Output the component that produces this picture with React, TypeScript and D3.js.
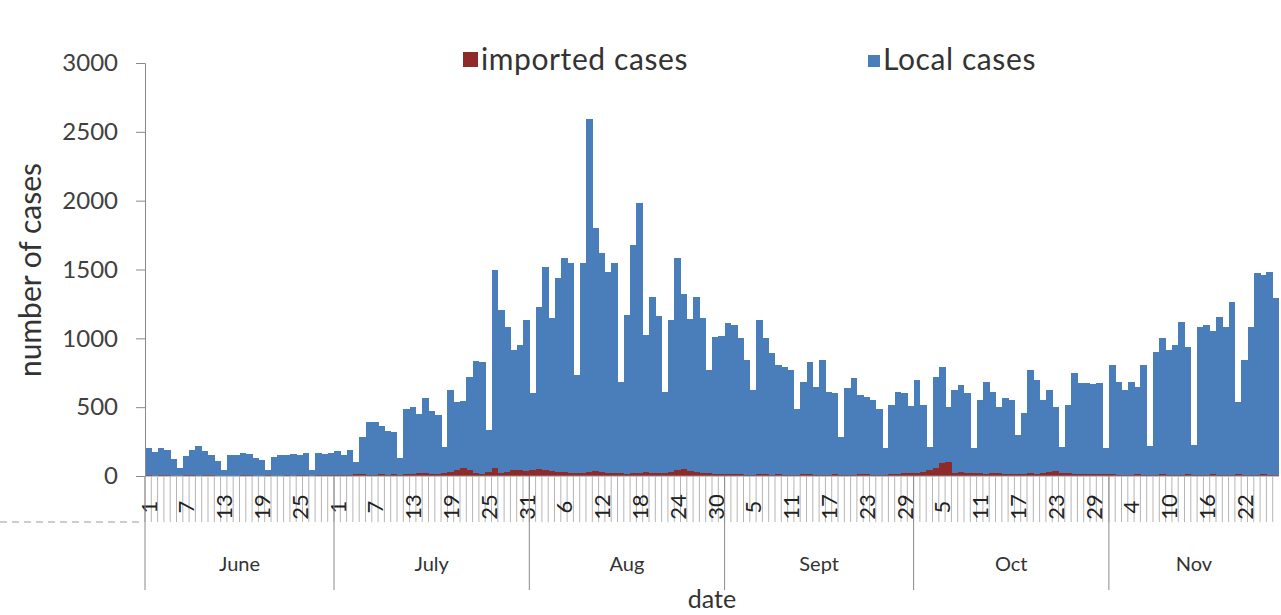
import React, { useEffect, useRef } from "react";
import * as d3 from "d3";

// months shown on the x axis
const months = ["June", "July", "Aug", "Sept", "Oct", "Nov"];
const monthDays = [30, 31, 31, 30, 31, 27];

// daily local cases, per month
const juneLocal = [
  205, 175, 200, 190, 120, 55, 145, 190, 215, 185, 150, 110, 45, 150, 150,
  165, 160, 130, 115, 40, 135, 150, 155, 160, 150, 170, 40, 170, 160, 165,
];
const julyLocal = [
  185, 150, 190, 100, 280, 395, 390, 365, 330, 320, 130, 490, 500, 450, 570,
  470, 440, 210, 625, 540, 545, 720, 835, 830, 335, 1496, 1205, 1085, 915, 950,
  1135,
];
const augLocal = [
  600, 1230, 1520, 1145, 1435, 1580, 1545, 735, 1545, 2590, 1800, 1617, 1485,
  1545, 685, 1170, 1678, 1980, 1025, 1300, 1160, 612, 1133, 1580, 1320, 1140,
  1300, 1145, 770, 1010, 1020,
];
const septLocal = [
  1110, 1095, 1000, 845, 625, 1133, 1000, 890, 806, 794, 770, 490, 685, 830,
  645, 843, 613, 600, 285, 637, 710, 590, 576, 552, 490, 200, 515, 613, 605,
  510,
];
const octLocal = [
  697, 515, 213, 721, 794, 503, 625, 661, 600, 200, 552, 685, 612, 503, 564,
  552, 298, 455, 770, 697, 552, 625, 503, 213, 515, 746, 673, 673, 670, 675,
  200,
];
const novLocal = [
  806, 685, 625, 685, 650, 806, 220, 903, 1000, 915, 952, 1121, 940, 225, 1085,
  1097, 1050, 1157, 1085, 1266, 540, 843, 1085, 1472, 1460, 1484, 1290,
];

// daily imported cases, per month
const juneImported = [
  5, 3, 4, 6, 3, 2, 4, 5, 3, 6, 4, 3, 2, 1, 3, 4, 5, 3, 2, 4, 3, 2, 4, 3, 5, 4,
  3, 6, 5, 4,
];
const julyImported = [
  8, 6, 10, 12, 15, 10, 8, 12, 10, 14, 9, 15, 18, 20, 22, 18, 16, 25, 30, 40,
  60, 45, 20, 15, 30, 55, 25, 30, 45, 40, 35,
];
const augImported = [
  45, 50, 40, 35, 30, 28, 25, 22, 25, 30, 35, 28, 25, 20, 22, 18, 20, 25, 30,
  22, 20, 25, 30, 40, 50, 35, 30, 25, 20, 18, 15,
];
const septImported = [
  15, 12, 14, 10, 8, 12, 14, 10, 12, 10, 8, 10, 12, 14, 10, 8, 10, 12, 10, 8,
  10, 12, 14, 10, 8, 10, 12, 15, 20, 25,
];
const octImported = [
  25, 30, 40, 55, 95, 100, 20, 30, 25, 20, 22, 18, 20, 22, 18, 15, 12, 15, 20,
  18, 25, 30, 35, 25, 20, 18, 15, 12, 14, 16, 15,
];
const novImported = [
  12, 10, 8, 10, 12, 10, 8, 10, 12, 10, 8, 10, 12, 10, 8, 10, 12, 10, 8, 10,
  12, 10, 8, 10, 12, 10, 8,
];

const yTicks = [0, 500, 1000, 1500, 2000, 2500, 3000];

const LOCAL_COLOR = "#4a7ebb";
const IMPORTED_COLOR = "#8e2a2a";
const FONT = "Lato, 'Open Sans', sans-serif";

interface DayRow {
  idx: number;
  day: number;
  local: number;
  imported: number;
}

const createCasesChart = (svgElement: SVGSVGElement): void => {
  const width = 1281;
  const height = 615;
  const left = 145;
  const right = 1279;
  const base = 476;
  const top = 63;

  d3.select(svgElement).selectAll("*").remove();
  const svg = d3.select(svgElement).attr("width", width).attr("height", height);

  const localAll = [juneLocal, julyLocal, augLocal, septLocal, octLocal, novLocal];
  const importedAll = [
    juneImported,
    julyImported,
    augImported,
    septImported,
    octImported,
    novImported,
  ];

  const rows: DayRow[] = [];
  localAll.forEach((arr, m) => {
    arr.forEach((v, i) => {
      rows.push({ idx: rows.length, day: i + 1, local: v, imported: importedAll[m][i] });
    });
  });

  const x = d3
    .scaleBand<number>()
    .domain(rows.map((d) => d.idx))
    .range([left, right])
    .padding(0);

  const y = d3.scaleLinear().domain([0, 3000]).range([base, top]);

  // bars: both series from zero, imported drawn in front (100% overlap)
  const bars = svg.append("g").attr("shape-rendering", "crispEdges");
  bars
    .selectAll(".local")
    .data(rows)
    .enter()
    .append("rect")
    .attr("class", "local")
    .attr("x", (d) => x(d.idx)!)
    .attr("width", x.bandwidth() + 0.4)
    .attr("y", (d) => y(d.local))
    .attr("height", (d) => base - y(d.local))
    .attr("fill", LOCAL_COLOR);

  bars
    .selectAll(".imported")
    .data(rows)
    .enter()
    .append("rect")
    .attr("class", "imported")
    .attr("x", (d) => x(d.idx)!)
    .attr("width", x.bandwidth() + 0.4)
    .attr("y", (d) => y(d.imported))
    .attr("height", (d) => base - y(d.imported))
    .attr("fill", IMPORTED_COLOR);

  // y axis
  const yAxis = svg
    .append("g")
    .attr("transform", `translate(${left},0)`)
    .call(
      d3
        .axisLeft(y)
        .tickValues(yTicks)
        .tickSize(9)
        .tickPadding(18)
        .tickFormat(d3.format("d"))
    );
  yAxis.select(".domain").attr("stroke", "#8a8a8a");
  yAxis.selectAll(".tick line").attr("stroke", "#8a8a8a");
  yAxis
    .selectAll(".tick text")
    .attr("font-family", FONT)
    .attr("font-size", 24)
    .attr("fill", "#404040");

  // x axis: base line, day grid, day labels
  const xg = svg.append("g");
  xg.append("line")
    .attr("x1", left)
    .attr("x2", right)
    .attr("y1", base)
    .attr("y2", base)
    .attr("stroke", "#8a8a8a");

  xg.selectAll(".dayline")
    .data(rows)
    .enter()
    .append("line")
    .attr("class", "dayline")
    .attr("x1", (d) => x(d.idx)!)
    .attr("x2", (d) => x(d.idx)!)
    .attr("y1", base)
    .attr("y2", base + 46)
    .attr("stroke", "#b5b5b5")
    .attr("stroke-width", 1);

  xg.selectAll(".daylabel")
    .data(rows.filter((d) => d.idx % 6 === 0))
    .enter()
    .append("text")
    .attr("class", "daylabel")
    .attr(
      "transform",
      (d) => `translate(${x(d.idx)! + x.bandwidth() / 2},${base + 31}) rotate(-90)`
    )
    .attr("text-anchor", "middle")
    .attr("dominant-baseline", "central")
    .attr("font-family", FONT)
    .attr("font-size", 22)
    .attr("fill", "#222")
    .text((d) => d.day);

  // month separators and names
  let start = 0;
  const monthSpans = months.map((name, i) => {
    const s = { name, from: start, to: start + monthDays[i] };
    start += monthDays[i];
    return s;
  });

  const mx = (i: number) => (i >= rows.length ? right : x(i)!);

  xg.selectAll(".sep")
    .data(monthSpans)
    .enter()
    .append("line")
    .attr("class", "sep")
    .attr("x1", (d) => mx(d.from))
    .attr("x2", (d) => mx(d.from))
    .attr("y1", base)
    .attr("y2", 590)
    .attr("stroke", "#8a8a8a");

  xg.selectAll(".month")
    .data(monthSpans)
    .enter()
    .append("text")
    .attr("class", "month")
    .attr("x", (d) => (mx(d.from) + mx(d.to)) / 2)
    .attr("y", 571)
    .attr("text-anchor", "middle")
    .attr("font-family", FONT)
    .attr("font-size", 20)
    .attr("fill", "#333")
    .text((d) => d.name);

  // stray dashed rule at the left edge
  svg
    .append("line")
    .attr("x1", 0)
    .attr("x2", left - 5)
    .attr("y1", 522)
    .attr("y2", 522)
    .attr("stroke", "#999")
    .attr("stroke-dasharray", "7,5");

  // axis titles
  svg
    .append("text")
    .attr("x", (left + right) / 2)
    .attr("y", 608)
    .attr("text-anchor", "middle")
    .attr("font-family", FONT)
    .attr("font-size", 25)
    .attr("fill", "#333")
    .text("date");

  svg
    .append("text")
    .attr("transform", `translate(41,270) rotate(-90)`)
    .attr("text-anchor", "middle")
    .attr("font-family", FONT)
    .attr("font-size", 30)
    .attr("fill", "#333")
    .text("number of cases");

  // legend
  const legend = [
    { label: "imported cases", color: IMPORTED_COLOR, x: 463, size: 15 },
    { label: "Local cases", color: LOCAL_COLOR, x: 868, size: 12 },
  ];
  const lg = svg
    .selectAll(".legend")
    .data(legend)
    .enter()
    .append("g")
    .attr("class", "legend");
  lg.append("rect")
    .attr("x", (d) => d.x)
    .attr("y", (d) => 67 - d.size)
    .attr("width", (d) => d.size)
    .attr("height", (d) => d.size)
    .attr("fill", (d) => d.color);
  lg.append("text")
    .attr("x", (d) => d.x + d.size + 3)
    .attr("y", 70)
    .attr("font-family", FONT)
    .attr("font-size", 30)
    .attr("letter-spacing", 0.6)
    .attr("fill", "#333")
    .text((d) => d.label);
};

const App: React.FC = () => {
  const svgRef = useRef<SVGSVGElement>(null);

  useEffect(() => {
    if (svgRef.current) {
      createCasesChart(svgRef.current);
    }
  }, []);

  return (
    <div style={{ position: "absolute", left: 0, top: 0, background: "#fff" }}>
      <svg ref={svgRef} style={{ display: "block" }} />
    </div>
  );
};

export default App;
